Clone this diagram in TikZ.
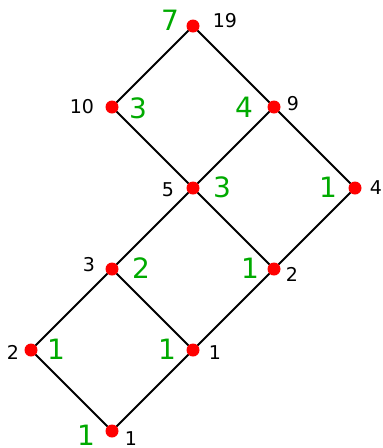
\documentclass[tikz,border=0pt]{standalone}
\usepackage{fontspec}
\setmainfont{DejaVu Sans}
\definecolor{cntgreen}{RGB}{0,170,0}
\tikzset{
  vtx/.style={circle,fill=red,inner sep=0pt,minimum size=13pt},
  edge/.style={line width=2pt,black},
  rank/.style={font=\fontsize{19}{19}\selectfont,black},
  cnt/.style={font=\fontsize{28}{28}\selectfont,cntgreen}
}
\begin{document}
\begin{tikzpicture}[x=1pt,y=-1pt]
\useasboundingbox (0,0) rectangle (383,448);
% lattice points
\foreach \nm/\x/\y in {v19/193/26,v10/112/107,v9/274/107,v5/193/188,v4/355/188,
  v3/112/269,v2r/274/269,v2l/31/350,v1r/193/350,v1b/112/431} {
  \coordinate (\nm) at (\x,\y);
}
\foreach \a/\b in {v19/v10,v19/v9,v10/v5,v9/v5,v9/v4,v5/v3,v5/v2r,v4/v2r,
  v3/v2l,v3/v1r,v2r/v1r,v2l/v1b,v1r/v1b} {
  \draw[edge] (\a) -- (\b);
}
\foreach \nm in {v19,v10,v9,v5,v4,v3,v2r,v2l,v1r,v1b} {
  \node[vtx] at (\nm) {};
}
% black labels
\foreach \x/\y/\t in {225/21/19,82/107/10,293/104/9,168/190/5,376/188/4,
  89/265/3,292/274/2,13/352/2,215/353/1,131/439/1} {
  \node[rank] at (\x,\y) {\t};
}
% green labels
\foreach \x/\y/\t in {170/20/7,138/108/3,244/107/4,222/187/3,328/187/1,
  141/268/2,250/268/1,56/349/1,167/349/1,86/435/1} {
  \node[cnt] at (\x,\y) {\t};
}
\end{tikzpicture}
\end{document}
